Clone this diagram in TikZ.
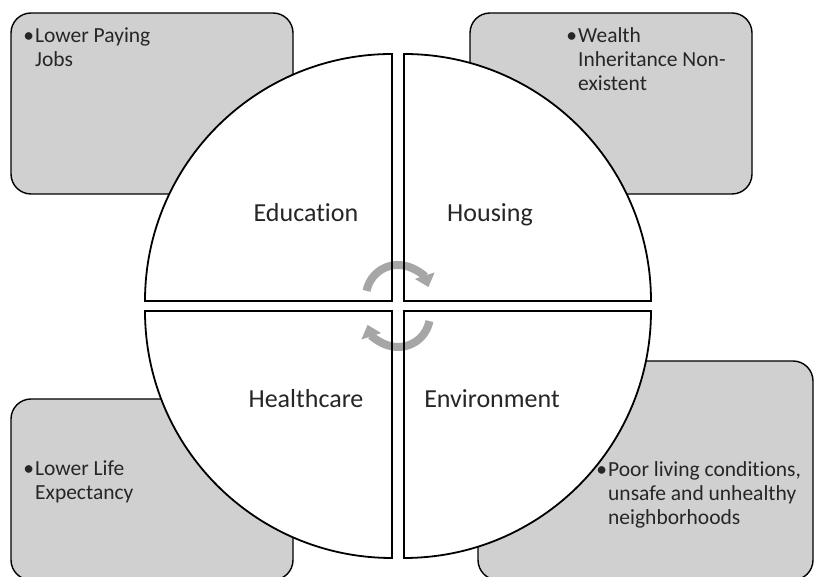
\documentclass[tikz,border=0pt]{standalone}
\usepackage{fontspec}
\setmainfont{Carlito}[Ligatures=NoCommon]
\usetikzlibrary{arrows.meta}
\definecolor{boxgray}{RGB}{208,208,208}
\definecolor{arrowgray}{RGB}{166,166,166}
\definecolor{txt}{RGB}{38,38,38}
\tikzset{
  box/.style={draw=black, line width=1.4pt, fill=boxgray, rounded corners=20pt, inner sep=0pt},
  quadfill/.style={fill=white},
  quadline/.style={draw=black, line width=1.8pt, line join=miter},
  cyclearrow/.style={draw=arrowgray, line width=8pt, -{Triangle[length=12pt,width=20pt]}},
  bullettext/.style={anchor=base west, inner sep=0pt, align=left, text=txt, font=\fontsize{21.5}{24}\selectfont},
  label/.style={anchor=base, inner sep=0pt, text=txt, font=\fontsize{26}{30}\selectfont}
}
\begin{document}
\begin{tikzpicture}[x=1pt,y=1pt]
\useasboundingbox (0,0) rectangle (815,577);
\clip (0,0) rectangle (815,577);
\fill[white] (0,0) rectangle (815,577);
% boxes
\node[box, minimum width=282pt, minimum height=181pt] (bTL) at (152,473.5) {};
\node[box, minimum width=282pt, minimum height=181pt] (bTR) at (611,473.5) {};
\node[box, minimum width=282pt, minimum height=181pt] (bBL) at (152,87.5) {};
\node[box, minimum width=335pt, minimum height=219pt] (bBR) at (645.5,106.5) {};
% quadrant corners
\coordinate (cUL) at (392,276);
\coordinate (cUR) at (404,276);
\coordinate (cLL) at (392,266);
\coordinate (cLR) at (404,266);
% quadrant fills
\fill[quadfill] (cUL) -- ++(-247,0) arc[start angle=180, end angle=90, radius=247] -- cycle;
\fill[quadfill] (cUR) -- ++(0,247) arc[start angle=90, end angle=0, radius=247] -- cycle;
\fill[quadfill] (cLL) -- ++(0,-247) arc[start angle=270, end angle=180, radius=247] -- cycle;
\fill[quadfill] (cLR) -- ++(247,0) arc[start angle=0, end angle=-90, radius=247] -- cycle;
% cycle arrows
\coordinate (aU) at (398,280);
\coordinate (aL) at (398,262);
\draw[cyclearrow] (aU) ++(169:32) arc[start angle=169, end angle=18, radius=32];
\draw[cyclearrow] (aL) ++(-11:32) arc[start angle=-11, end angle=-162, radius=32];
% quadrant outlines
\draw[quadline] (cUL) -- ++(-247,0) arc[start angle=180, end angle=90, radius=247] -- cycle;
\draw[quadline] (cUR) -- ++(0,247) arc[start angle=90, end angle=0, radius=247] -- cycle;
\draw[quadline] (cLL) -- ++(0,-247) arc[start angle=270, end angle=180, radius=247] -- cycle;
\draw[quadline] (cLR) -- ++(247,0) arc[start angle=0, end angle=-90, radius=247] -- cycle;
% labels
\node[label] (lEdu) at (306,355) {Education};
\node[label] (lHou) at (490,355) {Housing};
\node[label] (lHea) at (306,169) {Healthcare};
\node[label] (lEnv) at (492,169) {Environment};
% box texts (base anchor = baseline of last line)
\node[bullettext] (tTL) at (35,510) {\llap{•\kern1pt}Lower Paying\\Jobs};
\node[bullettext] (tTR) at (578,486) {\llap{•\kern1pt}Wealth\\Inheritance Non-\\existent};
\node[bullettext] (tBL) at (35,77) {\llap{•\kern1pt}Lower Life\\Expectancy};
\node[bullettext] (tBR) at (608,52) {\llap{•\kern1pt}Poor living conditions,\\unsafe and unhealthy\\neighborhoods};
\end{tikzpicture}
\end{document}
